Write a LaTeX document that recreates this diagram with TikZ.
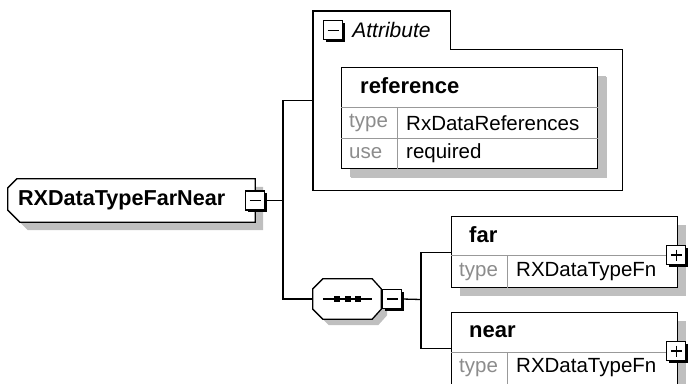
\documentclass[tikz,border=0pt]{standalone}
\usepackage{fontspec}
\setmainfont{Liberation Sans}
\usetikzlibrary{positioning}
\usetikzlibrary{shadows}
\tikzset{
	elem/.style={
		rectangle,
		draw=black, line width=1.3pt,
		fill=white,
		inner sep=0pt,
		drop shadow={shadow xshift=8pt, shadow yshift=-8pt, fill=black!25, opacity=1}},
	frame/.style={rectangle, draw=none, fill=none, inner sep=0pt},
	outline/.style={draw=black, line width=1.3pt, fill=white,
		drop shadow={shadow xshift=#1, shadow yshift=-#1, fill=black!25, opacity=1}},
	btn/.style={
		rectangle,
		draw=black, line width=1.2pt,
		fill=white,
		minimum size=19pt, inner sep=0pt,
		drop shadow={shadow xshift=2pt, shadow yshift=-2pt, fill=black, opacity=1}},
	minus/.style={btn,
		path picture={\draw[line width=1.2pt] ([xshift=4pt]path picture bounding box.west) -- ([xshift=-4pt]path picture bounding box.east);}},
	plus/.style={btn,
		path picture={\draw[line width=1.2pt] ([xshift=4pt]path picture bounding box.west) -- ([xshift=-4pt]path picture bounding box.east)
			([yshift=-4pt]path picture bounding box.north) -- ([yshift=4pt]path picture bounding box.south);}},
	cell/.style={draw=black!40, line width=0.9pt},
	conn/.style={draw, line width=1.3pt},
	elemname/.style={font=\fontsize{22}{24}\selectfont\bfseries, anchor=west, inner sep=0pt},
	typekey/.style={font=\fontsize{20.5}{24}\selectfont, text=black!45, anchor=west, inner sep=0pt},
	typeval/.style={font=\fontsize{20.5}{24}\selectfont, anchor=west, inner sep=0pt},
}
\begin{document}
\begin{tikzpicture}[x=1pt, y=-1pt]
	\useasboundingbox (0,0) rectangle (688,383);

	% main element
	\node[frame, minimum width=247pt, minimum height=43pt] (farnear) at (131.5,200.5) {};
	\path[outline=8pt] ([xshift=9pt]farnear.north west) -- (farnear.north east) -- (farnear.south east)
		-- ([xshift=12pt]farnear.south west) -- ([yshift=12pt]farnear.south west) -- ([yshift=-9pt]farnear.north west) -- cycle;
	\node[elemname, font=\fontsize{21.6}{24}\selectfont\bfseries, right=10pt of farnear.west] (farnearlbl) {RXDataTypeFarNear};
	\node[minus] (farnearbtn) at (farnear.east) {};
	\coordinate (forka) at (283,200.5);

	% attribute group
	\node[frame, minimum width=309pt, minimum height=179pt, anchor=north west] (attr) at (313,11) {};
	\node[frame, minimum width=137pt, minimum height=38pt, anchor=north west] (attrtab) at (attr.north west) {};
	\draw[line width=1.3pt] (attr.south west) |- (attrtab.north east) |- (attr.east |- attrtab.south) |- (attr.south west) -- cycle;
	\node[minus, right=10pt of attrtab.west] (attrbtn) {};
	\node[typeval, font=\fontsize{21}{24}\selectfont\itshape, right=9pt of attrbtn.east] (attrlbl) {Attribute};

	\node[elem, minimum width=256pt, minimum height=101pt, anchor=north west,
		drop shadow={shadow xshift=9pt, shadow yshift=-9pt, fill=black!25, opacity=1}] (ref) at (341,67) {};
	\draw[cell] ([yshift=-40pt]ref.north west) -- ([yshift=-40pt]ref.north east);
	\draw[cell] ([yshift=-71pt]ref.north west) -- ([yshift=-71pt]ref.north east);
	\draw[cell] ([xshift=56pt,yshift=-40pt]ref.north west) -- ([xshift=56pt]ref.south west);
	\node[elemname] (reflbl) at ([xshift=19pt,yshift=-19pt]ref.north west) {reference};
	\node[typekey] (reftype) at ([xshift=8pt,yshift=-56pt]ref.north west) {type};
	\node[typeval] (reftypeval) at ([xshift=65pt,yshift=-56pt]ref.north west) {RxDataReferences};
	\node[typekey] (refuse) at ([xshift=8pt,yshift=-86pt]ref.north west) {use};
	\node[typeval] (refuseval) at ([xshift=65pt,yshift=-86pt]ref.north west) {required};

	% sequence
	\node[frame, minimum width=68pt, minimum height=40pt] (seq) at (347,299) {};
	\path[outline=6pt] ([xshift=10pt]seq.north west) -- ([xshift=-9pt]seq.north east) -- ([yshift=-10pt]seq.north east)
		-- ([yshift=10pt]seq.south east) -- ([xshift=-9pt]seq.south east) -- ([xshift=10pt]seq.south west)
		-- ([yshift=10pt]seq.south west) -- ([yshift=-10pt]seq.north west) -- cycle;
	\draw[line width=1.2pt] ([xshift=10pt]seq.west) -- ([xshift=-9pt]seq.east);
	\foreach \dx in {-10,1,11}
		\fill ([xshift=\dx pt]seq.center) +(-3pt,-3pt) rectangle +(3pt,3pt);
	\node[minus, right=1pt of seq.east] (seqbtn) {};
	\coordinate (forkb) at (421,299.5);

	% far
	\node[elem, minimum width=226pt, minimum height=71pt, anchor=north west] (far) at (451,216) {};
	\draw[cell] ([yshift=-39pt]far.north west) -- ([yshift=-39pt]far.north east);
	\draw[cell] ([xshift=56pt,yshift=-39pt]far.north west) -- ([xshift=56pt]far.south west);
	\node[elemname] (farlbl) at ([xshift=18pt,yshift=-19pt]far.north west) {far};
	\node[typekey] (fartype) at ([xshift=8pt,yshift=-56pt]far.north west) {type};
	\node[typeval] (fartypeval) at ([xshift=65pt,yshift=-56pt]far.north west) {RXDataTypeFn};
	\node[plus] (farbtn) at ([xshift=-2pt,yshift=-39pt]far.north east) {};

	% near
	\node[elem, minimum width=226pt, minimum height=72pt, anchor=north west] (near) at (451,312) {};
	\draw[cell] ([yshift=-40pt]near.north west) -- ([yshift=-40pt]near.north east);
	\draw[cell] ([xshift=56pt,yshift=-40pt]near.north west) -- ([xshift=56pt]near.south west);
	\node[elemname] (nearlbl) at ([xshift=18pt,yshift=-20pt]near.north west) {near};
	\node[typekey] (neartype) at ([xshift=8pt,yshift=-56pt]near.north west) {type};
	\node[typeval] (neartypeval) at ([xshift=65pt,yshift=-56pt]near.north west) {RXDataTypeFn};
	\node[plus] (nearbtn) at ([xshift=-2pt,yshift=-39pt]near.north east) {};

	% connectors
	\draw[conn] (farnearbtn.east) -- (forka);
	\draw[conn] (attr.west) -| (forka) |- (seq.west);
	\draw[conn] (seqbtn.east) -- (forkb);
	\draw[conn] (far.west) -| (forkb) |- (near.west);
\end{tikzpicture}
\end{document}
